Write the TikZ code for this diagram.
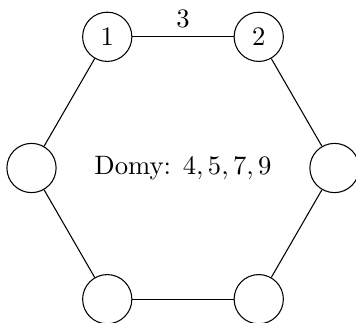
\documentclass[tikz,border=0pt]{standalone}
\usepackage{amsmath, amssymb}
\usepackage{tikz}

\begin{document}
\begin{tikzpicture}[line width=0.4pt]
\tikzset{house/.style={circle,draw,inner sep=0pt,minimum size=0.65cm}}
\useasboundingbox (-2.416,-2.046) rectangle (2.284,2.218);

% ---------- hexagon ----------
\node[house] (H1) at (120:2) {$1$};
\node[house] (H2) at (60:2) {$2$};
\node[house] (H3) at (0:2) {};
\node[house] (H4) at (300:2) {};
\node[house] (H5) at (240:2) {};
\node[house] (H6) at (180:2) {};

\draw (H1)--(H2) node[midway,above] {$3$};
\draw (H2)--(H3);
\draw (H3)--(H4);
\draw (H4)--(H5);
\draw (H5)--(H6);
\draw (H6)--(H1);

\node (info) at (0,0) {Domy: $4, 5, 7, 9$};

\end{tikzpicture}
\end{document}
